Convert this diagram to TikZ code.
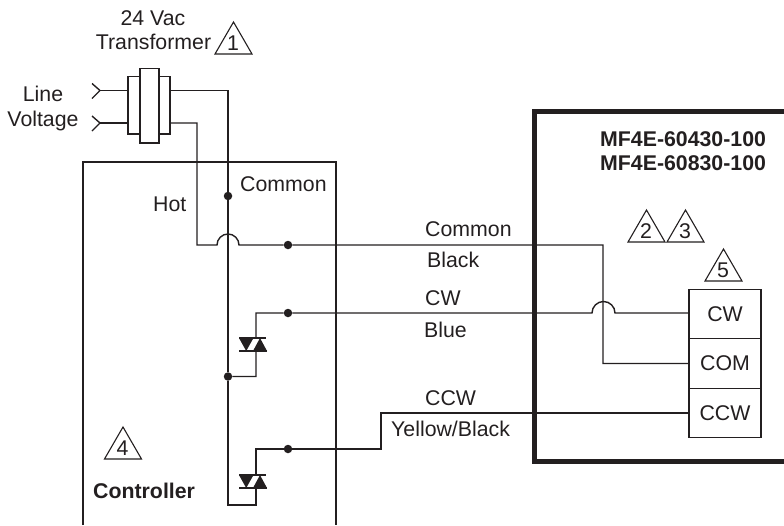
\documentclass[tikz,border=0pt]{standalone}
\usepackage{fontspec}
\setmainfont{Liberation Sans}
\definecolor{ink}{HTML}{231F20}
\tikzset{
  wire/.style={draw=ink,line width=1.4pt,line join=miter},
  box/.style={draw=ink,line width=1.4pt,fill=white,inner sep=0pt,minimum width=#1},
  term/.style={box=72pt,minimum height=49.5pt,text=ink,font=\fontsize{21.3}{24}\selectfont},
  thick box/.style={draw=ink,line width=5pt},
  junction/.style={circle,fill=ink,inner sep=0pt,minimum size=8.5pt},
  lbl/.style={text=ink,font=\fontsize{21.3}{24}\selectfont,inner sep=0pt,anchor=base},
  lbll/.style={lbl,anchor=base west},
  boldl/.style={lbll,font=\fontsize{21.3}{24}\selectfont\bfseries},
  note/.style={draw=ink,line width=1.1pt,line join=miter,fill=white},
  tri/.style={fill=ink,draw=none},
  bar/.style={draw=ink,line width=1.1pt},
}
\newcommand{\marker}[4]{%
  \draw[note] (#1-18.5,#2+16) -- (#1,#2-16) -- (#1+18.5,#2+16) -- cycle;
  \node[lbl] (#4) at (#1-0.5,#2+12.5) {#3};
}
\newcommand{\triac}[2]{%
  \fill[white] (#1-17,#2-6) rectangle (#1+11,#2+6);
  \draw[bar] (#1-17,#2-6.5) -- (#1+10,#2-6.5);
  \draw[bar] (#1-17,#2+6.5) -- (#1+11,#2+6.5);
  \fill[tri] (#1-17,#2-6.5) -- (#1-2.5,#2-6.5) -- (#1-9.8,#2+6.5) -- cycle;
  \fill[tri] (#1-3,#2+6.5) -- (#1+11,#2+6.5) -- (#1+4,#2-6.5) -- cycle;
}
\begin{document}
\begin{tikzpicture}[x=1pt,y=-1pt]
\useasboundingbox (0,0) rectangle (784,525);
% enclosures
\draw[wire] (83,525) -- (83,162) -- (336,162) -- (336,525);
\draw[thick box] (784,111) -- (534.5,111) -- (534.5,461.5) -- (784,461.5);
% nodes that the wires join
\coordinate (lineA) at (100,90.5);
\coordinate (lineB) at (100,123);
\coordinate (secA) at (170,90.5);
\coordinate (secB) at (170,123);
\coordinate (priA) at (128,90.5);
\coordinate (priB) at (128,123);
\node[junction] (j1) at (228,196) {};
\node[junction] (j2) at (288,245) {};
\node[junction] (j3) at (288,313) {};
\node[junction] (j4) at (228,376.5) {};
\node[junction] (j5) at (288,449) {};
\node[term] (cw) at (725,314) {CW};
\node[term] (com) at (725,363.5) {COM};
\node[term] (ccw) at (725,413) {CCW};
% hot wire
\draw[wire] (secB) -| (197,245) -- (217,245) arc[start angle=180,end angle=360,radius=11] -- (j2) -- (603,245) -- (603,363.5) -- (com.west);
% common wire
\draw[wire] (secA) -- (228,90.5) -- (j1) -- (j4) -- (228,505) -- (256,505) -- (256,449) -- (j5) -- (381,449) -- (381,413) -- (ccw.west);
% CW wire
\draw[wire] (j4) -- (256,376.5) -- (256,313) -- (j3) -- (592,313) arc[start angle=180,end angle=360,radius=11.5] -- (cw.west |- 0,313);
% line voltage
\draw[wire] (92,83.5) -- (lineA) -- (92,98.5);
\draw[wire] (92,116) -- (lineB) -- (92,131);
\draw[wire] (lineA) -- (priA);
\draw[wire] (lineB) -- (priB);
% transformer
\node[box=42pt,minimum height=57.5pt] (core) at (149,105.25) {};
\node[box=19pt,minimum height=74.5pt] (coil) at (149.5,105.75) {};
% triacs
\triac{256}{344.5}
\triac{256}{481.5}
% markers
\marker{233.5}{38}{1}{m1}
\marker{646.5}{226}{2}{m2}
\marker{685.5}{226}{3}{m3}
\marker{723.5}{265}{5}{m5}
\marker{123}{443}{4}{m4}
% labels
\node[lbl] (t1) at (153,25) {24 Vac};
\node[lbl] (t2) at (153.5,49) {Transformer};
\node[lbl] (t3) at (43,101) {Line};
\node[lbl] (t4) at (43,126) {Voltage};
\node[lbll] (t5) at (240,191) {Common};
\node[lbll] (t6) at (153,211) {Hot};
\node[lbll] (t7) at (425,236) {Common};
\node[lbll] (t8) at (427,267) {Black};
\node[lbll] (t9) at (425,305) {CW};
\node[lbll] (t10) at (424,337) {Blue};
\node[lbll] (t11) at (425,405) {CCW};
\node[lbll] (t12) at (391,436) {Yellow/Black};
\node[boldl] (t13) at (93,498) {Controller};
\node[boldl] (t14) at (600,146) {MF4E-60430-100};
\node[boldl] (t15) at (600,170) {MF4E-60830-100};
\end{tikzpicture}
\end{document}
